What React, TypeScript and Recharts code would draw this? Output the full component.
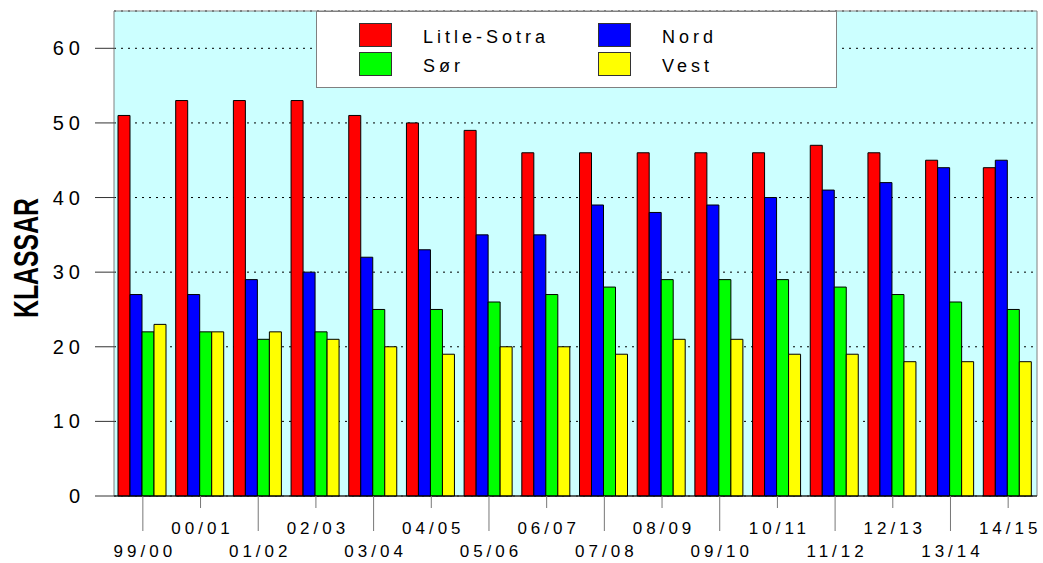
import React from 'react';
import {
  BarChart,
  Bar,
  XAxis,
  YAxis,
  CartesianGrid,
  ReferenceArea,
  Legend,
  Label,
} from 'recharts';

const periods = [
  '99/00', '00/01', '01/02', '02/03', '03/04', '04/05', '05/06', '06/07',
  '07/08', '08/09', '09/10', '10/11', '11/12', '12/13', '13/14', '14/15',
];
const litleSotra = [51, 53, 53, 53, 51, 50, 49, 46, 46, 46, 46, 46, 47, 46, 45, 44];
const nord = [27, 27, 29, 30, 32, 33, 35, 35, 39, 38, 39, 40, 41, 42, 44, 45];
const sor = [22, 22, 21, 22, 25, 25, 26, 27, 28, 29, 29, 29, 28, 27, 26, 25];
const vest = [23, 22, 22, 21, 20, 19, 20, 20, 19, 21, 21, 19, 19, 18, 18, 18];
const yTicks = [0, 10, 20, 30, 40, 50, 60];

const series = [
  { key: 'litleSotra', name: 'Litle-Sotra', color: '#ff0000' },
  { key: 'nord', name: 'Nord', color: '#0000ff' },
  { key: 'sor', name: 'Sør', color: '#00ff00' },
  { key: 'vest', name: 'Vest', color: '#ffff00' },
];

const data = periods.map((period, i) => ({
  period,
  litleSotra: litleSotra[i],
  nord: nord[i],
  sor: sor[i],
  vest: vest[i],
}));

const FONT = '"Liberation Sans", Arial, sans-serif';

const XTick = (props: any) => {
  const { x, y, payload, index } = props;
  const long = index % 2 === 0;
  const ls = 4;
  return (
    <g>
      <line x1={x} x2={x} y1={y} y2={y + (long ? 35 : 12)} stroke="#777" />
      <text
        x={x + ls / 2}
        y={y + (long ? 61 : 38)}
        textAnchor="middle"
        fontFamily={FONT}
        fontSize={17}
        letterSpacing={ls}
        fill="#000"
      >
        {payload.value}
      </text>
    </g>
  );
};

const YTick = (props: any) => {
  const { x, y, payload } = props;
  const ls = 5;
  return (
    <g>
      <line x1={x - 19} x2={x} y1={y} y2={y} stroke="#333" />
      <text
        x={80 + ls}
        y={y + 7}
        textAnchor="end"
        fontFamily={FONT}
        fontSize={20}
        letterSpacing={ls}
        fill="#000"
      >
        {payload.value}
      </text>
    </g>
  );
};

const swatch = (color: string): React.CSSProperties => ({
  position: 'absolute',
  width: 33,
  height: 24,
  background: color,
  border: '1px solid #333',
  boxSizing: 'border-box',
});

const legendText: React.CSSProperties = {
  position: 'absolute',
  fontFamily: FONT,
  fontSize: 18,
  letterSpacing: 4,
  lineHeight: '20px',
  color: '#000',
  whiteSpace: 'nowrap',
};

const renderLegend = () => {
  const spots = [
    { left: 42, top: 11 },
    { left: 281, top: 11 },
    { left: 42, top: 40 },
    { left: 281, top: 40 },
  ];
  return (
    <div
      style={{
        position: 'relative',
        width: 521,
        height: 77,
        background: '#fff',
        border: '1px solid #808080',
        boxSizing: 'border-box',
      }}
    >
      {series.map((s, i) => (
        <React.Fragment key={s.key}>
          <div style={{ ...swatch(s.color), left: spots[i].left, top: spots[i].top }} />
          <div style={{ ...legendText, left: spots[i].left + 64, top: spots[i].top + 4 }}>{s.name}</div>
        </React.Fragment>
      ))}
    </div>
  );
};

export default function App() {
  return (
    <div style={{ position: 'absolute', left: 0, top: 0, width: 1043, height: 563, background: '#fff' }}>
      <BarChart
        width={1043}
        height={563}
        data={data}
        margin={{ top: 11, right: 6, bottom: 0, left: 0 }}
        barCategoryGap={4}
        barGap={0}
      >
        <CartesianGrid
          vertical={false}
          fill="#ccffff"
          stroke="#000"
          strokeDasharray="2 5"
        />
        <ReferenceArea y1={0} y2={65} fill="none" stroke="#808080" strokeWidth={1} />
        <XAxis
          dataKey="period"
          height={67}
          interval={0}
          tickLine={false}
          tickSize={0}
          tickMargin={0}
          axisLine={{ stroke: '#000' }}
          tick={<XTick />}
        />
        <YAxis
          width={114}
          domain={[0, 65]}
          ticks={yTicks}
          interval={0}
          axisLine={false}
          tickLine={false}
          tickSize={0}
          tickMargin={0}
          tick={<YTick />}
        >
          <Label
            content={() => (
              <text
                x={0}
                y={0}
                transform="translate(38,258) rotate(-90)"
                textAnchor="middle"
                fontFamily='"Liberation Sans Narrow", "Arial Narrow", "Liberation Sans", sans-serif'
                fontWeight="bold"
                fontSize={35}
                textLength={120}
                lengthAdjust="spacingAndGlyphs"
                fill="#000"
              >
                KLASSAR
              </text>
            )}
          />
        </YAxis>
        <Legend
          verticalAlign="middle"
          layout="horizontal"
          content={renderLegend}
          wrapperStyle={{ left: 316, top: 11, width: 521, height: 77 }}
        />
        {series.map((s) => (
          <Bar
            key={s.key}
            dataKey={s.key}
            name={s.name}
            fill={s.color}
            stroke="#000"
            strokeWidth={1}
            isAnimationActive={false}
          />
        ))}
      </BarChart>
    </div>
  );
}
